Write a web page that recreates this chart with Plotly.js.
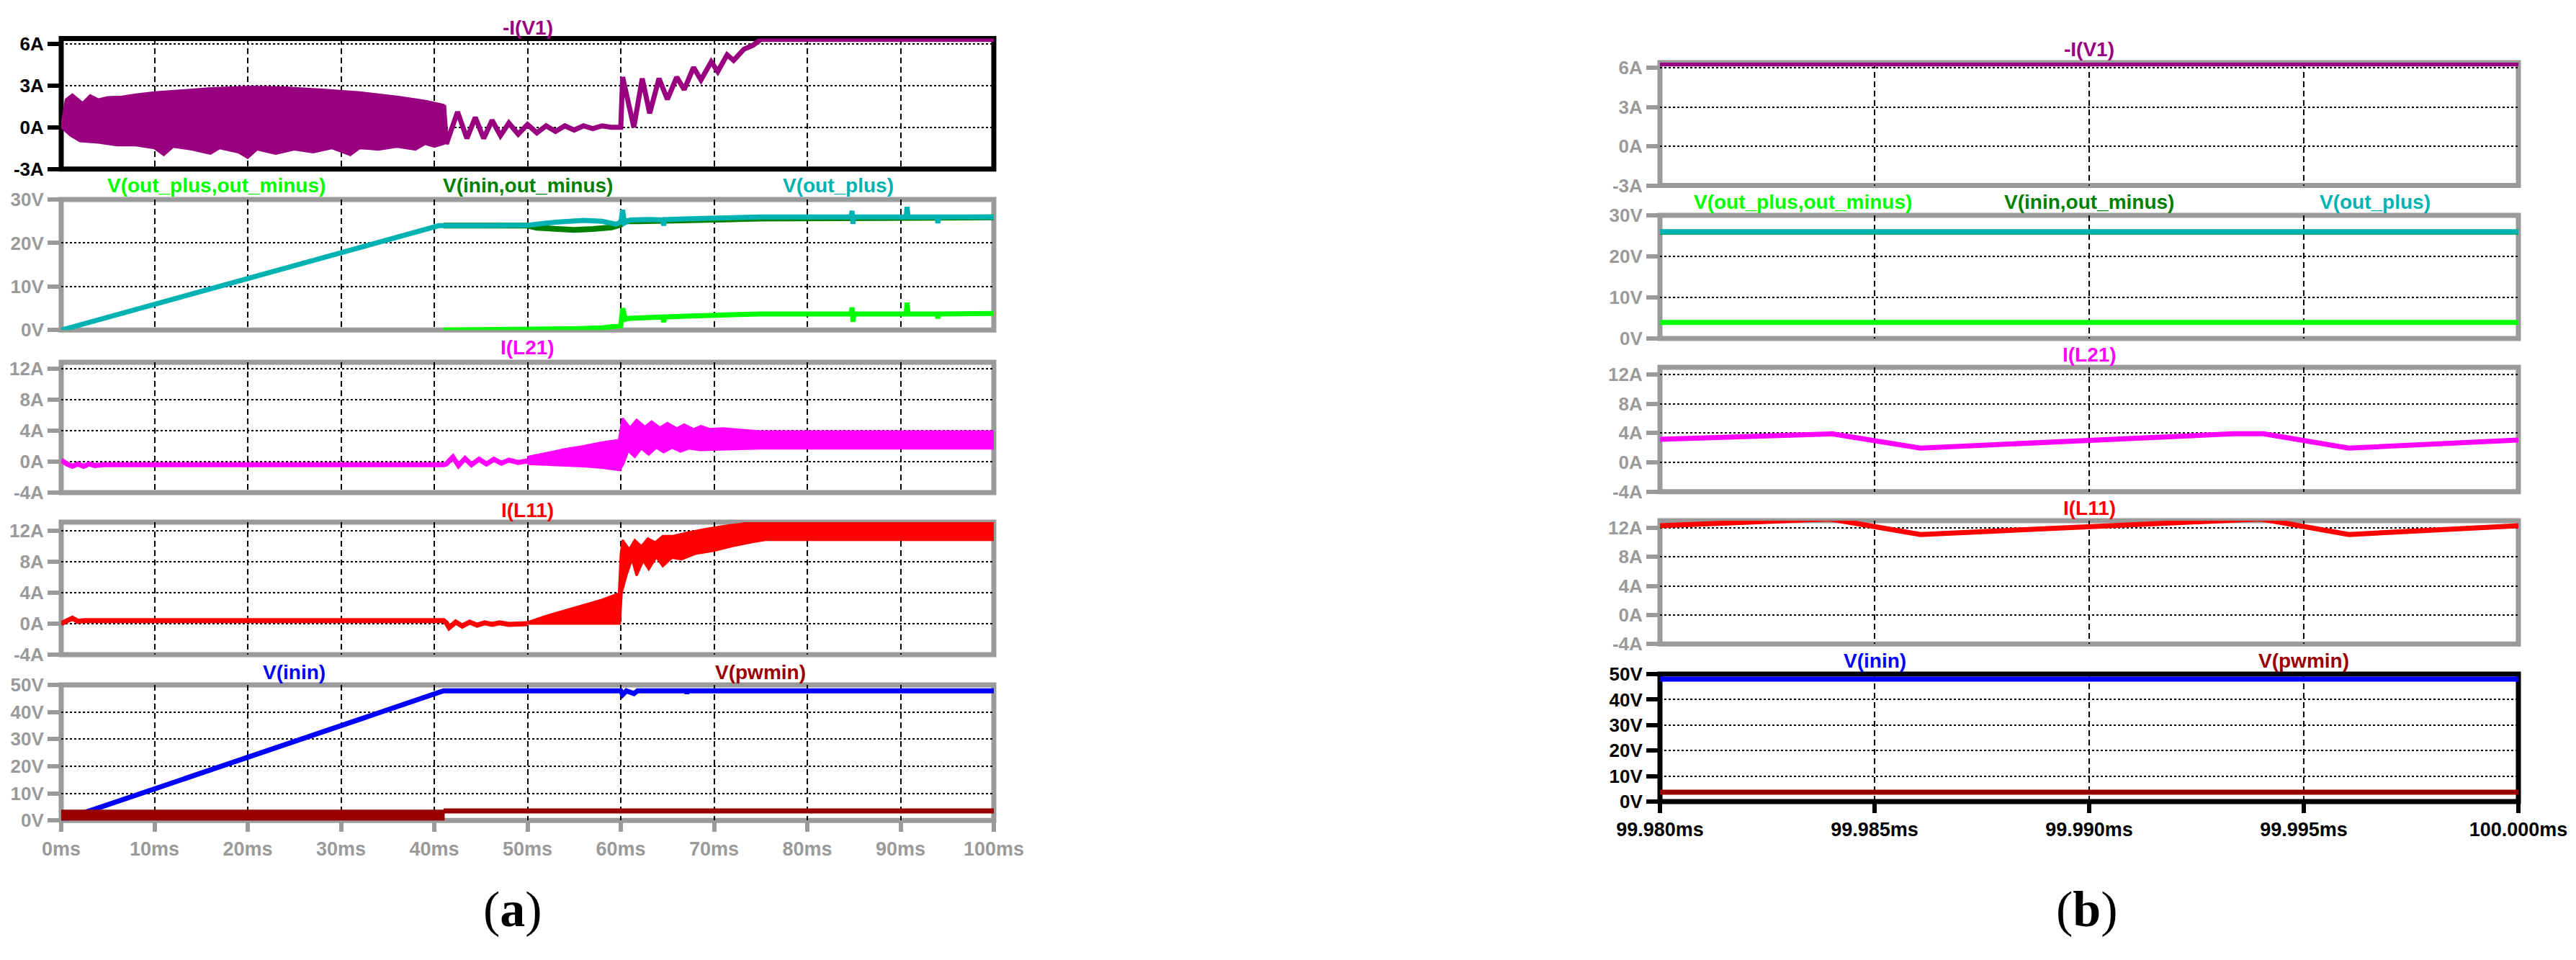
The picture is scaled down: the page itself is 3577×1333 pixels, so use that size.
<!DOCTYPE html>
<html><head><meta charset="utf-8">
<script src="https://cdn.plot.ly/plotly-3.0.1.min.js"></script>
<style>html,body{margin:0;padding:0;background:#fff}#chart{width:3577px;height:1333px}</style>
</head><body><div id="chart"></div>
<script>
// ================= DATA =================
// tick labels
const leftTimeTicks = [0, 10, 20, 30, 40, 50, 60, 70, 80, 90, 100];
const leftTimeLabels = ["0ms","10ms","20ms","30ms","40ms","50ms","60ms","70ms","80ms","90ms","100ms"];
const rightTimeTicks = [99.980, 99.985, 99.990, 99.995, 100.000];
const rightTimeLabels = ["99.980ms","99.985ms","99.990ms","99.995ms","100.000ms"];
const iv1Ticks = [-3, 0, 3, 6];
const iv1Labels = ["-3A","0A","3A","6A"];
const v30Ticks = [0, 10, 20, 30];
const v30Labels = ["0V","10V","20V","30V"];
const ampTicks = [-4, 0, 4, 8, 12];
const ampLabels = ["-4A","0A","4A","8A","12A"];
const v50Ticks = [0, 10, 20, 30, 40, 50];
const v50Labels = ["0V","10V","20V","30V","40V","50V"];

// panel titles
const titleIV1 = "-I(V1)";
const titleOutDiff = "V(out_plus,out_minus)";
const titleInOutMinus = "V(inin,out_minus)";
const titleOutPlus = "V(out_plus)";
const titleIL21 = "I(L21)";
const titleIL11 = "I(L11)";
const titleInin = "V(inin)";
const titlePwmin = "V(pwmin)";
const captionA = "a";
const captionB = "b";

// ---- (a) 0..100 ms, time in ms ----
// -I(V1): switching band 0..41 ms (upper / lower envelope), then a single trace
const iv1BandUpT  = [0, 0.5, 1.2, 2.3, 3.1, 4.0, 5.0, 6.5, 8, 10, 13, 16, 20.5, 24, 28, 32, 36, 39, 41];
const iv1BandUp   = [0, 2.0, 2.35, 1.75, 2.3, 2.0, 2.15, 2.2, 2.35, 2.5, 2.65, 2.8, 2.9, 2.85, 2.7, 2.5, 2.2, 1.9, 1.6];
const iv1BandLowT = [0, 1, 2, 4, 6, 8, 10, 11, 12, 14, 16, 17, 19, 20, 21, 23, 25, 27, 29, 31, 32, 34, 36, 38, 39, 40, 41];
const iv1BandLow  = [0, -0.6, -1.0, -1.1, -1.3, -1.3, -1.5, -2.0, -1.4, -1.6, -1.9, -1.5, -1.8, -2.2, -1.6, -1.9, -1.6, -1.8, -1.5, -2.0, -1.5, -1.6, -1.4, -1.6, -1.2, -1.4, -1.2];
const iv1LineT = [41, 41.3, 42.5, 43.5, 44.4, 45.3, 46.2, 47.1, 48.0, 49.0, 50.0, 51.0, 52.0, 53.0, 54.0, 55.0, 56.0, 57.0, 58.0, 59.0, 60.0, 60.2, 61.4, 62.3, 63.1, 64.1, 65.0, 66.0, 66.8, 67.8, 68.6, 69.7, 70.4, 71.4, 72.1, 73.2, 74.2, 75.0, 100];
const iv1Line  = [1.6, -1.2, 1.1, -0.8, 0.7, -0.8, 0.5, -0.6, 0.3, -0.5, 0.2, -0.4, 0.1, -0.3, 0.1, -0.2, 0.1, -0.1, 0.1, 0.0, 0.0, 3.6, 0.0, 3.5, 1.0, 3.5, 2.0, 3.6, 2.7, 4.3, 3.4, 4.7, 4.0, 5.2, 4.8, 5.6, 5.9, 6.3, 6.3];

// V(out_plus), V(inin,out_minus), V(out_plus,out_minus)
const vOutPlusT = [0, 40.5, 45, 50, 53, 56, 58, 59.5, 60.0, 60.2, 60.4, 61, 63, 64.5, 64.6, 64.7, 68, 72, 75, 84.7, 84.8, 84.9, 85.0, 90.6, 90.7, 90.8, 93.9, 94.0, 94.1, 100];
const vOutPlus  = [0, 24, 24, 24.1, 24.8, 25.2, 25, 24.3, 24.8, 27.6, 24.6, 25.3, 25.4, 25.3, 24.0, 25.4, 25.6, 25.8, 26, 26, 27.4, 24.4, 26, 26, 28.3, 26, 26, 24.6, 26, 26];
const vInOutMinusT = [41, 50, 51, 53, 55, 57, 59, 60, 60.3, 62, 66, 70, 75, 100];
const vInOutMinus  = [24, 24, 23.5, 23.1, 23.0, 23.2, 23.6, 24.2, 25.0, 25.0, 25.1, 25.3, 25.6, 25.9];
const vOutDiffT = [41, 50, 52, 55, 58, 59.8, 60.0, 60.2, 60.5, 61, 63, 64.5, 64.6, 64.7, 67, 70, 75, 84.7, 84.8, 84.9, 85.0, 90.6, 90.7, 90.8, 93.9, 94.0, 94.1, 100];
const vOutDiff  = [0, 0.1, 0.2, 0.3, 0.5, 0.8, 1.0, 5.0, 2.5, 2.7, 2.9, 3.0, 1.8, 3.0, 3.2, 3.4, 3.7, 3.7, 5.2, 1.9, 3.7, 3.7, 6.3, 3.7, 3.7, 2.7, 3.7, 3.8];

// I(L21)
const iL21LineT = [0, 0.6, 1.2, 1.8, 2.4, 3.0, 3.6, 4.5, 41, 41.3, 42.0, 42.6, 43.3, 44.0, 44.8, 45.6, 46.4, 47.2, 48.0, 49.0, 50.0];
const iL21Line  = [0.2, -0.3, -0.6, -0.3, -0.6, -0.3, -0.5, -0.4, -0.4, -0.3, 0.6, -0.5, 0.4, -0.4, 0.3, -0.3, 0.3, -0.2, 0.2, -0.1, 0.1];
const iL21BandUpT = [50, 52, 54, 56, 58, 59.8, 60.2, 61.0, 61.7, 62.6, 63.3, 64.2, 65.0, 66.0, 66.8, 67.8, 68.6, 69.6, 71, 73, 75, 100];
const iL21BandUp  = [0.6, 1.1, 1.6, 2.0, 2.5, 2.8, 5.6, 4.4, 5.4, 4.5, 5.2, 4.4, 5.0, 4.3, 4.8, 4.2, 4.6, 4.2, 4.3, 4.1, 3.9, 3.9];
const iL21BandLowT = [50, 52, 54, 56, 58, 59.9, 60.3, 60.8, 61.5, 62.2, 63.0, 63.8, 64.6, 65.5, 66.4, 67.3, 68.5, 70, 75, 100];
const iL21BandLow  = [-0.3, -0.4, -0.5, -0.6, -0.8, -1.1, -0.2, 1.4, 0.6, 1.7, 0.9, 1.8, 1.2, 1.8, 1.3, 1.7, 1.5, 1.6, 1.7, 1.7];

// I(L11)
const iL11LineT = [0, 0.6, 1.2, 1.8, 2.5, 41, 41.3, 41.6, 42.3, 43.0, 43.8, 44.6, 45.4, 46.2, 47.0, 48.0, 49.0, 50.0];
const iL11Line  = [0, 0.3, 0.7, 0.3, 0.4, 0.4, 0.1, -0.5, 0.2, -0.3, 0.2, -0.2, 0.1, -0.1, 0.1, -0.1, 0.0, 0.0];
const iL11BandUpT = [50, 52, 54, 56, 58, 59.8, 60.0, 60.2, 60.9, 61.5, 62.2, 62.9, 63.7, 64.5, 65.5, 67, 69, 71, 73, 75, 100];
const iL11BandUp  = [0.2, 1.0, 1.7, 2.4, 3.1, 3.9, 9.0, 10.8, 9.6, 10.8, 10.0, 11.0, 10.5, 11.3, 11.3, 11.7, 12.2, 12.6, 12.9, 13.5, 13.5];
const iL11BandLowT = [50, 55, 59.9, 60.1, 60.6, 61.2, 61.7, 62.4, 63.0, 63.8, 64.5, 65.5, 66.5, 68, 70, 72, 74, 75.5, 100];
const iL11BandLow  = [0, 0, 0, 4.0, 6.2, 8.3, 6.2, 8.1, 7.0, 8.6, 7.4, 8.5, 8.3, 9.0, 9.4, 10.0, 10.5, 10.8, 10.8];

// V(inin), V(pwmin)
const vIninT = [0, 41, 60.0, 60.2, 60.6, 61.4, 61.8, 67.0, 67.1, 67.2, 100];
const vInin  = [0, 47.8, 47.8, 46.4, 47.8, 46.8, 47.8, 47.8, 46.9, 47.8, 47.8];
const vPwminBandT = [0, 41];
const vPwminBandUp = [3.6, 3.6];
const vPwminBandLow = [0.0, 0.0];
const vPwminLineT = [41, 100];
const vPwminLine = [3.5, 3.5];

// ---- (b) 99.980..100.000 ms ----
const rT = [99.980, 100.000];
const rIV1 = [6.3, 6.3];
const rVOutDiff = [3.9, 3.9];
const rVInOutMinus = [25.9, 25.9];
const rVOutPlus = [26.0, 26.0];
const rIL21T = [99.980, 99.98346, 99.98400, 99.98607, 99.99336, 99.99406, 99.99605, 100.000];
const rIL21  = [3.15, 3.9, 3.9, 1.95, 3.9, 3.9, 1.95, 3.05];
const rIL11T = [99.980, 99.98395, 99.98607, 99.99400, 99.99605, 100.000];
const rIL11  = [12.3, 13.25, 11.1, 13.25, 11.1, 12.3];
const rVInin = [48.0, 48.0];
const rVPwmin = [3.7, 3.7];

// ================= STYLE / LAYOUT =================
const W = 3577, H = 1333;
const C = {
  purple: '#990080', teal: '#00B2B2', green: '#00FF00', dgreen: '#008000',
  magenta: '#FF00FF', red: '#FF0000', blue: '#0000FF', dred: '#990000',
  gray: '#9A9A9A', black: '#000000'
};
const FONT = 'Liberation Sans, Arial, Helvetica, sans-serif';
const LW = 7;

const leftX = [85, 1380], rightX = [2305, 3497];
const leftRows  = [[53.5, 234.7], [277, 458.3], [503, 684], [725, 909], [951, 1139.3]];
const rightRows = [[87, 257.5], [299, 470], [510, 682.7], [723, 894.3], [936, 1113]];
const leftRanges  = [[-3, 6.37], [0, 30], [-4, 12.84], [-4, 13.1], [0, 50]];
const rightRanges = [[-3, 6.39], [0, 30], [-4, 12.98], [-4, 13.0], [0, 50]];
const yTickSets = [[iv1Ticks, iv1Labels], [v30Ticks, v30Labels], [ampTicks, ampLabels], [ampTicks, ampLabels], [v50Ticks, v50Labels]];

const layout = {
  width: W, height: H, autosize: false,
  margin: {l: 0, r: 0, t: 0, b: 0, pad: 0},
  paper_bgcolor: '#fff', plot_bgcolor: 'rgba(0,0,0,0)',
  showlegend: false, hovermode: false,
  shapes: [], annotations: []
};

function axName(k) { return k === 1 ? '' : String(k); }

function buildPanel(k, xPx, rowPx, yRange, xRange, xTicks, xLabels, yTicks, yLabels, isBottom, col, xLabCol) {
  const n = axName(k);
  layout['xaxis' + n] = {
    domain: [xPx[0] / W, xPx[1] / W], range: xRange, anchor: 'y' + n,
    tickmode: 'array', tickvals: xTicks, ticktext: xLabels,
    showticklabels: isBottom, ticks: isBottom ? 'outside' : '',
    ticklen: 15, tickwidth: 6, tickcolor: col,
    tickfont: {family: FONT, size: 27, color: xLabCol, weight: 'bold'},
    showgrid: true, gridcolor: '#000', gridwidth: 2, griddash: '8px,5px',
    zeroline: false, showline: false, fixedrange: true
  };
  layout['yaxis' + n] = {
    domain: [1 - rowPx[1] / H, 1 - rowPx[0] / H], range: yRange, anchor: 'x' + n,
    tickmode: 'array', tickvals: yTicks, ticktext: yLabels,
    ticks: 'outside', ticklen: 18, tickwidth: 6, tickcolor: col,
    tickfont: {family: FONT, size: 26, color: col, weight: 'bold'},
    showgrid: true, gridcolor: '#000', gridwidth: 2, griddash: '3px,3px',
    zeroline: false, showline: false, fixedrange: true
  };
  layout.shapes.push({
    type: 'rect', xref: 'paper', yref: 'paper',
    x0: xPx[0] / W, x1: xPx[1] / W, y0: 1 - rowPx[1] / H, y1: 1 - rowPx[0] / H,
    layer: 'below', line: {color: col, width: 7}, fillcolor: 'rgba(0,0,0,0)'
  });
}

for (let r = 0; r < 5; r++) {
  const colL = r === 0 ? C.black : C.gray;
  buildPanel(r + 1, leftX, leftRows[r], leftRanges[r], [0, 100], leftTimeTicks, leftTimeLabels,
             yTickSets[r][0], yTickSets[r][1], r === 4, colL, C.gray);
  const colR = r === 4 ? C.black : C.gray;
  buildPanel(r + 6, rightX, rightRows[r], rightRanges[r], [99.980, 100.000], rightTimeTicks, rightTimeLabels,
             yTickSets[r][0], yTickSets[r][1], r === 4, colR, C.black);
}

function title(text, xPx, yPx, color) {
  layout.annotations.push({
    text: text, xref: 'paper', yref: 'paper', x: xPx / W, y: 1 - yPx / H,
    xanchor: 'center', yanchor: 'middle', showarrow: false,
    font: {family: FONT, size: 28, color: color, weight: 'bold'}
  });
}
function frac(xPx, f) { return xPx[0] + (xPx[1] - xPx[0]) * f; }
const lTitleY = [38, 257, 482, 708, 933];
const rTitleY = [68, 280, 492, 705, 917];
[[leftX, lTitleY], [rightX, rTitleY]].forEach(([xp, ty]) => {
  title(titleIV1, frac(xp, 0.5), ty[0], C.purple);
  title(titleOutDiff, frac(xp, 1/6), ty[1], C.green);
  title(titleInOutMinus, frac(xp, 0.5), ty[1], C.dgreen);
  title(titleOutPlus, frac(xp, 5/6), ty[1], C.teal);
  title(titleIL21, frac(xp, 0.5), ty[2], C.magenta);
  title(titleIL11, frac(xp, 0.5), ty[3], C.red);
  title(titleInin, frac(xp, 0.25), ty[4], C.blue);
  title(titlePwmin, frac(xp, 0.75), ty[4], C.dred);
});
function caption(letter, xPx) {
  layout.annotations.push({
    text: '(<b>' + letter + '</b>)', xref: 'paper', yref: 'paper', x: xPx / W, y: 1 - 1262 / H,
    xanchor: 'center', yanchor: 'middle', showarrow: false,
    font: {family: 'Liberation Serif, Times New Roman, serif', size: 70, color: '#000'}
  });
}
caption(captionA, 712);
caption(captionB, 2898);

// ================= TRACES =================
const traces = [];
function line(k, x, y, color, width) {
  const n = axName(k);
  traces.push({type: 'scatter', mode: 'lines', x: x, y: y, xaxis: 'x' + n, yaxis: 'y' + n,
    line: {color: color, width: width || LW}, hoverinfo: 'skip'});
}
function band(k, upT, up, lowT, low, color) {
  const n = axName(k);
  traces.push({type: 'scatter', mode: 'lines', fill: 'toself', fillcolor: color,
    x: upT.concat(lowT.slice().reverse()), y: up.concat(low.slice().reverse()),
    xaxis: 'x' + n, yaxis: 'y' + n, line: {color: color, width: 3}, hoverinfo: 'skip'});
}

// (a)
band(1, iv1BandUpT, iv1BandUp, iv1BandLowT, iv1BandLow, C.purple);
line(1, iv1LineT, iv1Line, C.purple);
line(2, vOutDiffT, vOutDiff, C.green);
line(2, vInOutMinusT, vInOutMinus, C.dgreen, 8);
line(2, vOutPlusT, vOutPlus, C.teal);
line(3, iL21LineT, iL21Line, C.magenta);
band(3, iL21BandUpT, iL21BandUp, iL21BandLowT, iL21BandLow, C.magenta);
line(4, iL11LineT, iL11Line, C.red);
band(4, iL11BandUpT, iL11BandUp, iL11BandLowT, iL11BandLow, C.red);
line(5, vIninT, vInin, C.blue);
band(5, vPwminBandT, vPwminBandUp, vPwminBandT, vPwminBandLow, C.dred);
line(5, vPwminLineT, vPwminLine, C.dred);

// (b)
line(6, rT, rIV1, C.purple);
line(7, rT, rVOutDiff, C.green);
line(7, rT, rVInOutMinus, C.dgreen);
line(7, rT, rVOutPlus, C.teal);
line(8, rIL21T, rIL21, C.magenta);
line(9, rIL11T, rIL11, C.red);
line(10, rT, rVInin, C.blue);
line(10, rT, rVPwmin, C.dred);

Plotly.newPlot('chart', traces, layout, {staticPlot: true, displayModeBar: false});
</script>
</body></html>
